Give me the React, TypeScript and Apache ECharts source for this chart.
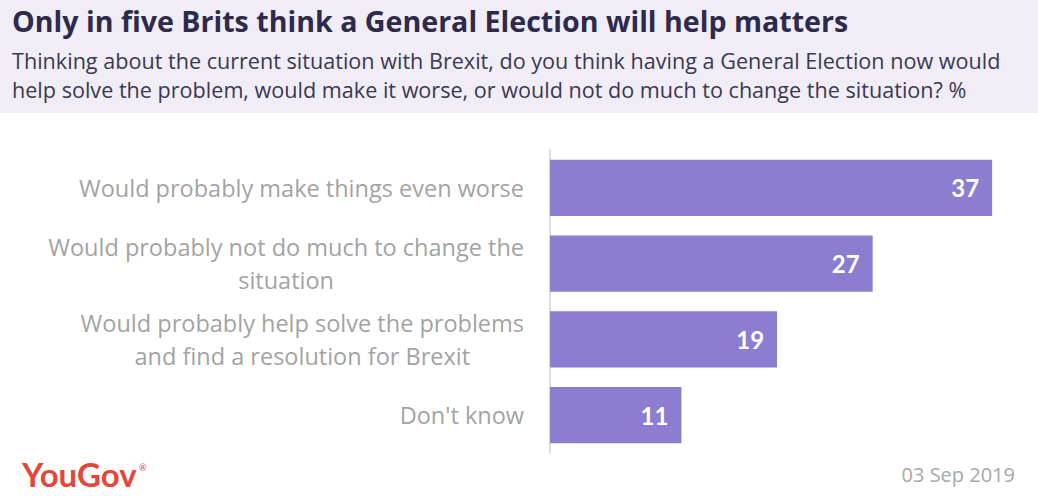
import React, { useEffect, useRef } from "react";
import * as echarts from "echarts";

const categories = [
  "Would probably make things even worse",
  "Would probably not do much to change the\nsituation",
  "Would probably help solve the problems\nand find a resolution for Brexit",
  "Don't know",
];
const values = [37, 27, 19, 11];
const titleText = "Only in five Brits think a General Election will help matters";
const subtitleLines = [
  "Thinking about the current situation with Brexit, do you think having a General Election now would",
  "help solve the problem, would make it worse, or would not do much to change the situation? %",
];
const brandText = "YouGov";
const dateText = "03 Sep 2019";

export default function App() {
  const ref = useRef<HTMLDivElement>(null);
  useEffect(() => {
    if (!ref.current) return;
    const chart = echarts.init(ref.current, null, { renderer: "svg" });
    chart.setOption({
      animation: false,
      backgroundColor: "#ffffff",
      textStyle: { fontFamily: "Open Sans" },
      graphic: [
        { type: "rect", left: 0, top: 0, shape: { width: 1038, height: 113 }, style: { fill: "#f0edf6" }, z: -1 },
        {
          type: "text", left: 12, top: 6,
          style: { text: titleText, font: "bold 28.6px 'Open Sans'", fill: "#2e2a4b" },
        },
        {
          type: "text", left: 12, top: 46,
          style: { text: subtitleLines.join("\n"), font: "21.6px 'Open Sans'", lineHeight: 29, fill: "#3b3850" },
        },
        {
          type: "text", left: 22, top: 457,
          style: { text: brandText, font: "bold 33px Lato", fill: "#e4463b" },
        },
        {
          type: "text", left: 139, top: 463,
          style: { text: "®", font: "9px Lato", fill: "#e4463b" },
        },
        {
          type: "text", right: 23, top: 464,
          style: { text: dateText, font: "20px 'Open Sans'", fill: "#a8a8a8", align: "right" },
        },
      ],
      grid: { left: 550, right: 10, top: 150, bottom: 43, containLabel: false },
      xAxis: {
        type: "value", min: 0, max: 40, show: false,
      },
      yAxis: {
        type: "category",
        inverse: true,
        data: categories,
        axisTick: { show: false },
        axisLine: { show: true, lineStyle: { color: "#dddddd", width: 2 } },
        axisLabel: {
          margin: 26,
          formatter: (v: string) => v.split("\n").map((l) => `{c|${l}}`).join("\n"),
          rich: {
            c: { align: "center", fontSize: 23.5, color: "#a3a3a3", lineHeight: 33, fontFamily: "Open Sans" },
          },
        },
      },
      series: [
        {
          type: "bar",
          data: values,
          barCategoryGap: "26%",
          itemStyle: { color: "#8c7dd1" },
          label: {
            show: true,
            position: "insideRight",
            distance: 13,
            color: "#ffffff",
            fontSize: 24,
            fontWeight: "bold",
            fontFamily: "Lato",
          },
        },
      ],
    });
    return () => chart.dispose();
  }, []);
  return <div ref={ref} style={{ width: 1038, height: 496, position: "absolute", left: 0, top: 0 }} />;
}
